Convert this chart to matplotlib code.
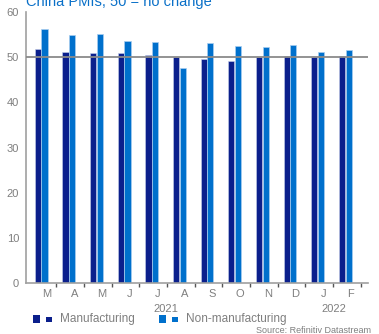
import numpy as np
import matplotlib
matplotlib.use("Agg")
import matplotlib.pyplot as plt
from matplotlib.patches import Rectangle

plt.rcParams['font.family'] = ['Liberation Sans', 'DejaVu Sans']

# China PMIs, Mar 2021 - Feb 2022
months = ['M', 'A', 'M', 'J', 'J', 'A', 'S', 'O', 'N', 'D', 'J', 'F']
manufacturing = [51.9, 51.1, 51.0, 50.9, 50.4, 50.1, 49.6, 49.2, 50.1, 50.3, 50.1, 50.2]
non_manufacturing = [56.3, 54.9, 55.2, 53.5, 53.3, 47.5, 53.2, 52.4, 52.3, 52.7, 51.1, 51.6]
years = ['2021', '2022']
year_pos = [4.5, 10.6]
yticks = [0, 10, 20, 30, 40, 50, 60]

navy = '#0b1f8c'
blue = '#0070cc'
grey = '#8a8a8a'
txt = '#7f7f7f'

fig = plt.figure(figsize=(3.79, 3.34), dpi=100)
ax = fig.add_axes([26/379, 51/334, 342/379, 271/334])

x = np.arange(len(months))
w = 0.22
ax.bar(x - 0.12, manufacturing, width=w, color=navy, edgecolor='#c8d2ea', linewidth=0.4)
ax.bar(x + 0.12, non_manufacturing, width=w, color=blue, edgecolor='#a8cdf0', linewidth=0.5)

ax.axhline(50, color=grey, lw=1.3, zorder=3)

ax.set_xlim(-0.55, 11.82)
ax.set_ylim(0, 60)
ax.set_yticks(yticks)
ax.tick_params(axis='y', length=0, pad=5, labelsize=8, labelcolor=txt)

# boundary ticks (no labels) and month labels as minor ticks
ax.set_xticks(x + 0.55)
ax.set_xticklabels([])
ax.tick_params(axis='x', which='major', length=3, width=1, color='#555555', direction='out')
ax.set_xticks(x + 0.2, minor=True)
ax.set_xticklabels(months, minor=True)
ax.tick_params(axis='x', which='minor', length=0, pad=4, labelsize=8, labelcolor=txt)

for yl, yp in zip(years, year_pos):
    ax.text(yp, -0.095, yl, transform=ax.get_xaxis_transform(), ha='center', va='center',
            fontsize=8, color=txt)

for s in ['top', 'right']:
    ax.spines[s].set_visible(False)
ax.spines['left'].set_color('#a0a0a0')
ax.spines['left'].set_linewidth(1.2)
ax.spines['bottom'].set_color('#a0a0a0')
ax.spines['bottom'].set_linewidth(1.2)

fig.text(26/379, 1 - 6/334, 'China PMIs, 50 = no change', color='#0a70c8', fontsize=10.5,
         ha='left', va='baseline')

# legend drawn by hand
def leg_item(x0, c, label):
    fig.add_artist(Rectangle((x0/379, 1 - 323/334), 7/379, 8/334, transform=fig.transFigure,
                             color=c, lw=0))
    fig.add_artist(Rectangle(((x0 + 13)/379, 1 - 322/334), 6/379, 5/334, transform=fig.transFigure,
                             color=c, lw=0))
    fig.text((x0 + 27)/379, 1 - 319/334, label, color=txt, fontsize=8.5, ha='left', va='center')

leg_item(33, navy, 'Manufacturing')
leg_item(159, blue, 'Non-manufacturing')

fig.text(256/379, 1 - 333/334, 'Source: Refinitiv Datastream', color=txt, fontsize=6.5,
         ha='left', va='baseline')

fig.savefig('out.png', dpi=100)
